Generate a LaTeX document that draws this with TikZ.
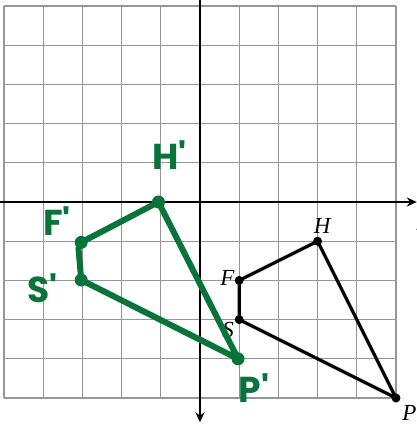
\documentclass[tikz,border=0pt]{standalone}
\usepackage{fontspec}
\setmainfont{Liberation Serif}
\newfontfamily\handfont{Poppins}
\usetikzlibrary{arrows.meta}
\definecolor{pgreen}{RGB}{8,116,58}
\definecolor{gridgray}{RGB}{150,150,150}
\tikzset{
  gridline/.style={gridgray, line width=1.1pt},
  axisline/.style={black, line width=1.8pt},
  origshape/.style={black, line width=3.3pt, line join=round},
  imgshape/.style={pgreen, line width=6pt, line join=round, line cap=round},
  blackdot/.style={circle, fill=black, inner sep=0pt, minimum size=9pt},
  greendot/.style={circle, fill=pgreen, inner sep=0pt, minimum size=13pt},
  ptlabel/.style={font=\itshape\fontsize{23}{23}\selectfont, inner sep=0pt},
  handlabel/.style={pgreen, font=\handfont\bfseries\fontsize{36}{36}\selectfont, inner sep=0pt}
}
\begin{document}
\begin{tikzpicture}[x=39.2pt,y=39.2pt]
\useasboundingbox (-5.1020,-5.7143) rectangle (5.5357,5.1531);
% grid
\draw[gridline, xstep=39.2pt, ystep=39.2pt] (-5,-5) grid (5,5);
% axes
\coordinate (xl) at (-5.3,0);
\coordinate (xr) at (5.53,0);
\coordinate (yt) at (0,5.4);
\coordinate (yb) at (0,-5.62);
\draw[axisline, -{Stealth[length=10pt,width=9pt]}] (xl) -- (xr);
\draw[axisline, -{Stealth[length=10pt,width=9pt]}] (yt) -- (yb);
\node[ptlabel] (xlab) at (5.66,-0.59) {x};
% original figure
\node[blackdot] (F) at (1,-2) {};
\node[blackdot] (H) at (3,-1) {};
\node[blackdot] (P) at (5,-5) {};
\node[blackdot] (S) at (1,-3) {};
\draw[origshape] (F.center) -- (H.center) -- (P.center) -- (S.center) -- cycle;
\node[ptlabel] (Hl) at (3.12,-0.6) {H};
\node[ptlabel] (Fl) at (0.7,-1.94) {F};
\node[ptlabel] (Sl) at (0.72,-3.26) {S};
\node[ptlabel] (Pl) at (5.34,-5.38) {P};
% image figure
\node[greendot] (H') at (-1.06,0) {};
\node[greendot] (F') at (-3.03,-1.03) {};
\node[greendot] (S') at (-3.03,-1.99) {};
\node[greendot] (P') at (0.97,-4.0) {};
\draw[imgshape] (F'.center) -- (H'.center) -- (P'.center) -- (S'.center) -- (-3.1,-1.18) -- cycle;
\node[handlabel] (H'l) at (-0.78,1.2) {H'};
\node[handlabel] (F'l) at (-3.65,-0.5) {F'};
\node[handlabel] (S'l) at (-4.02,-2.2) {S'};
\node[handlabel] (P'l) at (1.38,-4.74) {P'};
\end{tikzpicture}
\end{document}
